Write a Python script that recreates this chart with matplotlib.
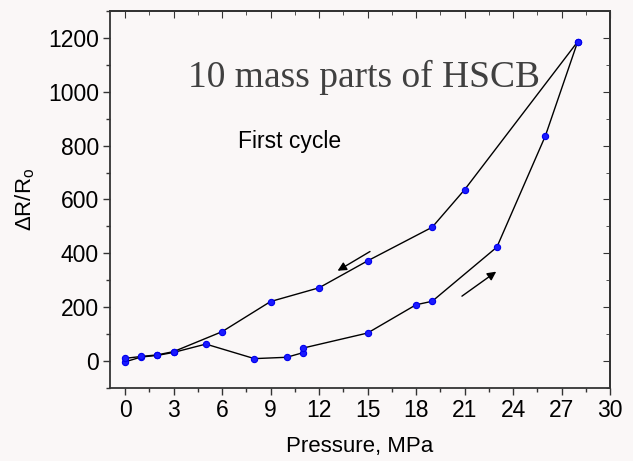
import matplotlib
matplotlib.use("Agg")
import matplotlib.pyplot as plt
from matplotlib.ticker import MultipleLocator

plt.rcParams["font.family"] = ["Liberation Sans", "DejaVu Sans"]
plt.rcParams["mathtext.fontset"] = "custom"
plt.rcParams["mathtext.rm"] = "Liberation Sans"

# loading branch (pressure up)
load_p = [0, 1, 2, 3, 5, 8, 10, 11, 11, 15, 18, 19, 23, 26, 28]
load_r = [-3, 15, 21, 32, 63, 9, 14, 31, 48, 104, 209, 222, 423, 836, 1186]

# unloading branch (pressure down)
unload_p = [28, 21, 19, 15, 12, 9, 6, 3, 2, 1, 0]
unload_r = [1186, 636, 497, 372, 272, 221, 109, 35, 23, 17, 10]

bg = "#faf7f7"
fig = plt.figure(figsize=(6.33, 4.61), dpi=100, facecolor=bg)
ax = fig.add_axes([0.1738, 0.1584, 0.7899, 0.8178], facecolor=bg)

mk = dict(marker="o", markersize=4.5, markerfacecolor="#1a1aff",
          markeredgecolor="#0000ee", markeredgewidth=0.8, color="black", linewidth=1.0)
ax.plot(load_p, load_r, **mk)
ax.plot(unload_p, unload_r, **mk)

# direction arrows
ax.annotate("", xy=(13.0, 330), xytext=(15.3, 412),
            arrowprops=dict(arrowstyle="-|>", color="black", lw=1.0, mutation_scale=13))
ax.annotate("", xy=(23.1, 338), xytext=(20.7, 235),
            arrowprops=dict(arrowstyle="-|>", color="black", lw=1.0, mutation_scale=13))

ax.text(14.8, 1052, "10 mass parts of HSCB", family="Liberation Serif",
        fontsize=27, color="#404040", ha="center", va="center")
ax.text(10.2, 815, "First cycle", fontsize=16.5, ha="center", va="center")

ax.set_xlim(-0.93, 30)
ax.set_ylim(-100, 1300)
ax.xaxis.set_major_locator(MultipleLocator(3))
ax.xaxis.set_minor_locator(MultipleLocator(1.5))
ax.yaxis.set_major_locator(MultipleLocator(200))
ax.yaxis.set_minor_locator(MultipleLocator(100))
ax.set_yticks(range(0, 1201, 200))

ax.tick_params(which="both", direction="out", labelsize=16.5, width=1.0, color="#333333")
ax.tick_params(which="major", length=5, pad=3)
ax.tick_params(which="minor", length=3)

# inward ticks on top and right like the original plot
ax2 = ax.secondary_yaxis("right")
ax2.yaxis.set_major_locator(MultipleLocator(200))
ax2.yaxis.set_minor_locator(MultipleLocator(100))
ax2.tick_params(which="both", direction="in", labelright=False, color="#333333")
ax2.tick_params(which="major", length=5)
ax2.tick_params(which="minor", length=3)
ax3 = ax.secondary_xaxis("top")
ax3.xaxis.set_major_locator(MultipleLocator(3))
ax3.xaxis.set_minor_locator(MultipleLocator(1.5))
ax3.tick_params(which="both", direction="in", labeltop=False, color="#333333")
ax3.tick_params(which="major", length=5)
ax3.tick_params(which="minor", length=3)

for s in list(ax.spines.values()) + [ax2.spines["right"], ax3.spines["top"]]:
    s.set_linewidth(1.3)
    s.set_color("#333333")

ax.set_xlabel("Pressure, MPa", fontsize=16, labelpad=10)
ax.set_ylabel(r"ΔR/R$_\mathrm{o}$", fontsize=16, labelpad=8)

fig.savefig("out.png", dpi=100, facecolor=bg)
